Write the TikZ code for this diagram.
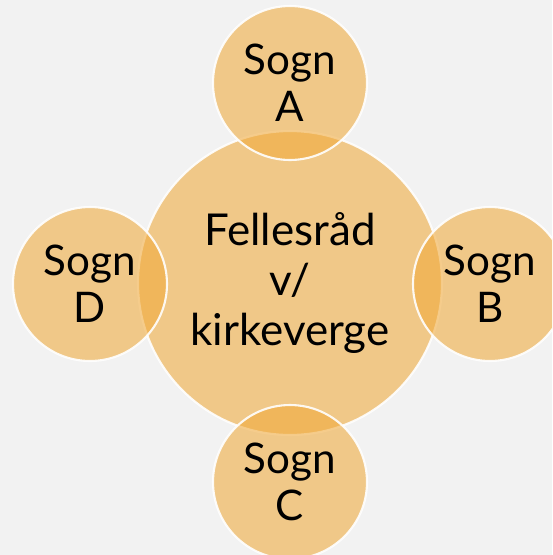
\documentclass[tikz,border=0pt]{standalone}
\usepackage{fontspec}
\setmainfont{Lato}
\usepackage{tikz}
\usetikzlibrary{positioning}

\definecolor{bggray}{HTML}{F2F2F2}
\definecolor{sognfill}{HTML}{F0AA3C}

\tikzset{
    sogn/.style={shape=circle,draw=white,line width=1.2pt,fill=sognfill,fill opacity=0.58,draw opacity=0.9,text opacity=1,minimum size=3.08cm,inner sep=0pt,align=center,font=\fontsize{24}{27}\selectfont},
    felles/.style={sogn,minimum size=6.08cm,font=\fontsize{25}{28.5}\selectfont}
}

\begin{document}
\begin{tikzpicture}[x=0.02cm,y=-0.02cm]
        \fill[bggray] (0,0) rectangle (552,555);
        \useasboundingbox (0,0) rectangle (552,555);
        \clip (0,0) rectangle (552,555);

        \node (raad) at (290,283) [felles] {Fellesråd\\v/\\kirkeverge};
        \node (sognA) at (290,83) [sogn] {Sogn\\A};
        \node (sognB) at (490,284) [sogn] {Sogn\\B};
        \node (sognC) at (290,482) [sogn] {Sogn\\C};
        \node (sognD) at (90,284) [sogn] {Sogn\\D};
    \end{tikzpicture}
\end{document}
